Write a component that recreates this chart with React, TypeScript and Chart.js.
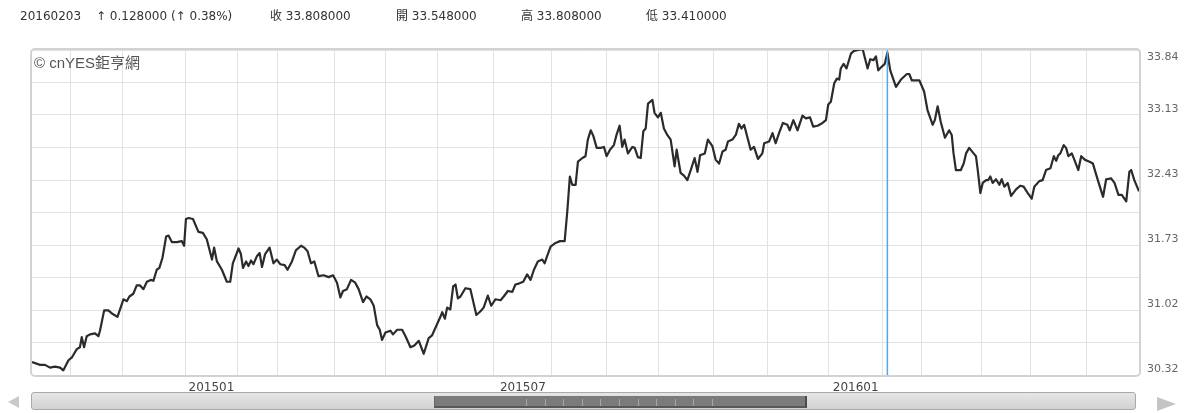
import { useEffect, useRef } from 'react';
import { Chart, registerables } from 'chart.js';

Chart.register(...registerables);

// ---- data (trading-day index from the first day shown, closing price) ----
const dayIndex = [
  0, 3.1, 5, 6.9, 8.8, 10.8, 12, 14, 15.3, 17.2,
  18.4, 19.1, 20, 21, 22.3, 24.2, 25.5, 26.1, 27.7, 29.3,
  31, 32.8, 33.8, 35.1, 36.4, 37.4, 38.9, 40.2, 41.5, 42.8,
  44.1, 45.6, 46.6, 47.9, 48.9, 50.1, 51.5, 52.4, 53.7, 55.6,
  57.5, 58.4, 59.1, 60.1, 61.8, 63.9, 65.6, 67.1, 69.1, 69.9,
  71, 72.9, 74.8, 76.1, 77.1, 79.3, 80.2, 81, 82.2, 83.1,
  84.1, 85, 86.4, 87.4, 88.3, 89.5, 91.2, 92.7, 94, 95.3,
  97, 98.1, 99.8, 101.3, 103.3, 104.5, 105.8, 107.1, 108.4, 110,
  112, 113.9, 115.6, 117.1, 118.4, 119.4, 120.9, 122.5, 124.1, 125.4,
  127.1, 128.4, 129.9, 131.2, 132.5, 133.5, 134.4, 135.7, 137.6, 138.6,
  140.2, 142.1, 143.4, 145.3, 146.8, 148.5, 150.4, 152.3, 153.6, 155.5,
  156.8, 157.5, 158.5, 159.4, 160.6, 161.7, 162.6, 163.5, 164.5, 166.4,
  168.3, 170.6, 172.2, 173.4, 175, 176.3, 177.9, 179.9, 181.1, 182.7,
  184.4, 185.6, 186.9, 188.6, 190.1, 191.4, 192.7, 194.2, 195.9, 196.8,
  197.8, 199.1, 201, 202.7, 204.5, 205.5, 206.5, 207.4, 208.7, 209.6,
  211.3, 212.5, 213.4, 214.5, 215.5, 216.8, 218.3, 219.6, 220.6, 221.9,
  223.4, 224.4, 225.6, 226.6, 227.5, 228.8, 230.5, 231.4, 232.6, 233.7,
  234.7, 235.6, 236.5, 238.2, 239, 240.3, 241.4, 242.6, 243.9, 245.2,
  246.7, 247.5, 249, 250.3, 251.6, 252.9, 254.4, 255.5, 256.5, 258.3,
  259.5, 261.2, 262.5, 263.8, 265.1, 266.3, 267.2, 268.9, 270.2, 271.4,
  272.4, 273.4, 274.7, 275.9, 277.2, 278.7, 280.4, 281.1, 283, 284.3,
  285.5, 286.8, 288.3, 290, 290.9, 292.3, 293.9, 295.8, 297.1, 298.7,
  299.9, 301.6, 303.5, 304.8, 305.7, 306.7, 308, 309, 309.9, 310.5,
  311.6, 312.7, 314.4, 315.6, 317.2, 318.9, 319.8, 320.8, 321.8, 323.1,
  324, 324.9, 325.9, 327.4, 328.4, 329.5, 331.7, 333.6, 335.9, 336.8,
  337.8, 340.7, 342.5, 343.8, 345.8, 346.6, 347.7, 348.9, 350.5, 352.1,
  353.1, 353.8, 354.7, 356.6, 357.7, 358.6, 359.8, 361.5, 362.4, 363.1,
  364.1, 365, 366.3, 367.1, 367.9, 368.8, 370.1, 371.4, 372.3, 373.3,
  374.6, 375.9, 377.8, 379.4, 380.7, 382.3, 383.8, 384.8, 386.7, 388,
  389.3, 391, 392.3, 393.2, 394, 394.8, 396.1, 397, 397.9, 399.2,
  400.2, 401.7, 402.8, 404.3, 406, 407.3, 409.2, 411.2, 412.4, 414.3,
  415.6, 417.1, 418.4, 420.1, 421.3, 422, 423.2, 425,
];

const closePrice = [
  30.46, 30.43, 30.43, 30.40, 30.41, 30.40, 30.37, 30.48, 30.51, 30.60,
  30.62, 30.73, 30.62, 30.74, 30.76, 30.77, 30.74, 30.80, 31.02, 31.02,
  30.98, 30.95, 31.03, 31.14, 31.12, 31.17, 31.20, 31.29, 31.29, 31.25,
  31.33, 31.35, 31.34, 31.46, 31.48, 31.59, 31.82, 31.83, 31.76, 31.76,
  31.77, 31.72, 32.01, 32.02, 32.01, 31.87, 31.86, 31.79, 31.57, 31.70,
  31.55, 31.46, 31.33, 31.33, 31.53, 31.69, 31.63, 31.48, 31.55, 31.50,
  31.56, 31.52, 31.61, 31.64, 31.49, 31.63, 31.70, 31.53, 31.57, 31.52,
  31.51, 31.46, 31.55, 31.67, 31.72, 31.70, 31.66, 31.53, 31.55, 31.39,
  31.40, 31.38, 31.40, 31.32, 31.16, 31.23, 31.25, 31.35, 31.32, 31.25,
  31.11, 31.17, 31.14, 31.07, 30.86, 30.81, 30.70, 30.78, 30.80, 30.76,
  30.81, 30.81, 30.74, 30.62, 30.64, 30.69, 30.55, 30.72, 30.75, 30.87,
  30.95, 31.00, 30.93, 31.05, 31.03, 31.28, 31.30, 31.15, 31.17, 31.26,
  31.25, 30.97, 31.01, 31.05, 31.18, 31.07, 31.14, 31.13, 31.17, 31.23,
  31.22, 31.30, 31.31, 31.33, 31.41, 31.35, 31.46, 31.55, 31.57, 31.53,
  31.61, 31.71, 31.75, 31.77, 31.77, 32.09, 32.47, 32.38, 32.38, 32.63,
  32.67, 32.69, 32.87, 32.97, 32.91, 32.78, 32.78, 32.79, 32.69, 32.76,
  32.81, 32.92, 33.02, 32.79, 32.87, 32.72, 32.79, 32.78, 32.68, 32.67,
  32.96, 32.99, 33.26, 33.30, 33.16, 33.11, 33.16, 32.99, 32.92, 32.87,
  32.58, 32.76, 32.51, 32.48, 32.43, 32.54, 32.67, 32.52, 32.70, 32.72,
  32.87, 32.80, 32.65, 32.61, 32.74, 32.76, 32.85, 32.87, 32.92, 33.04,
  32.99, 33.03, 32.89, 32.76, 32.79, 32.66, 32.72, 32.83, 32.85, 32.94,
  32.83, 32.94, 33.05, 33.03, 32.97, 33.08, 32.97, 33.13, 33.10, 33.11,
  33.01, 33.02, 33.05, 33.08, 33.25, 33.28, 33.48, 33.53, 33.52, 33.64,
  33.69, 33.64, 33.80, 33.83, 33.84, 33.85, 33.75, 33.64, 33.74, 33.73,
  33.77, 33.62, 33.65, 33.69, 33.81, 33.62, 33.44, 33.52, 33.58, 33.58,
  33.51, 33.51, 33.39, 33.19, 33.03, 33.08, 33.23, 33.06, 32.89, 32.97,
  32.92, 32.72, 32.54, 32.54, 32.61, 32.72, 32.78, 32.72, 32.69, 32.54,
  32.29, 32.40, 32.43, 32.43, 32.47, 32.40, 32.44, 32.38, 32.44, 32.36,
  32.40, 32.26, 32.33, 32.37, 32.36, 32.29, 32.23, 32.36, 32.42, 32.43,
  32.54, 32.56, 32.69, 32.64, 32.70, 32.72, 32.81, 32.78, 32.69, 32.72,
  32.65, 32.54, 32.69, 32.65, 32.63, 32.61, 32.43, 32.25, 32.44, 32.45,
  32.40, 32.27, 32.27, 32.20, 32.52, 32.54, 32.43, 32.31,
];

// first trading day of each month (trading-day index) and its yyyymm name
const monthStartDay = [14.6, 34.6, 58.8, 79.0, 94.1, 116.0, 135.6, 155.6, 177.3, 199.6, 220.6, 240.5, 261.7, 282.4, 305.9, 326.6, 341.6, 364.7, 383.5, 405.0, 425];
const monthStartName = ['201411', '201412', '201501', '201502', '201503', '201504', '201505', '201506', '201507', '201508', '201509', '201510', '201511', '201512', '201601', '201602', '201603', '201604', '201605', '201606', '201607'];
const xLabelMonths = ['201501', '201507', '201601'];
const dayMin = 0;
const dayMax = 425;

const yMin = 30.32;
const yMax = 33.84;
const yTickLabels = ['30.32', '31.02', '31.73', '32.43', '33.13', '33.84'];

const selectedDay = 328.4; // 20160203
const headerDate = '20160203';
const headerChange = '↑ 0.128000 (↑ 0.38%)';
const headerClose = '收 33.808000';
const headerOpen = '開 33.548000';
const headerHigh = '高 33.808000';
const headerLow = '低 33.410000';
const watermark = '© cnYES鉅亨網';

const labelDays = xLabelMonths.map((m) => {
  const i = monthStartName.indexOf(m);
  return (monthStartDay[i] + monthStartDay[i + 1]) / 2;
});

const zeroPad = (s: any) => {
  s.paddingTop = 0;
  s.paddingBottom = 0;
  s.paddingLeft = 0;
  s.paddingRight = 0;
};

const decorPlugin = {
  id: 'decor',
  beforeDraw(chart: any) {
    const s = chart.scales.y;
    const items = s.getLabelItems();
    const top = yTickLabels[yTickLabels.length - 1];
    for (const it of items) {
      if (it.label === top) it.options.translation[1] = s.getPixelForValue(yMax) + 7;
    }
  },
  afterDatasetsDraw(chart: any) {
    const { ctx, chartArea } = chart;
    const x = chart.scales.x.getPixelForValue(selectedDay);
    ctx.save();
    ctx.strokeStyle = '#52a8ec';
    ctx.lineWidth = 1.5;
    ctx.beginPath();
    ctx.moveTo(x, chartArea.top);
    ctx.lineTo(x, chartArea.bottom);
    ctx.stroke();
    ctx.restore();
  },
  afterDraw(chart: any) {
    const { ctx, chartArea } = chart;
    ctx.save();
    ctx.strokeStyle = '#d2d2d2';
    ctx.lineWidth = 2;
    ctx.beginPath();
    const a: any = ctx;
    if (a.roundRect) {
      a.roundRect(chartArea.left - 1, chartArea.top - 1, chartArea.right - chartArea.left + 2, chartArea.bottom - chartArea.top + 2, 4);
    } else {
      ctx.rect(chartArea.left - 1, chartArea.top - 1, chartArea.right - chartArea.left + 2, chartArea.bottom - chartArea.top + 2);
    }
    ctx.stroke();
    ctx.restore();
  },
};

export default function App() {
  const ref = useRef<HTMLCanvasElement | null>(null);

  useEffect(() => {
    if (!ref.current) return;
    const chart = new Chart(ref.current, {
      type: 'line',
      data: {
        datasets: [
          {
            data: dayIndex.map((d, i) => ({ x: d, y: closePrice[i] })),
            borderColor: '#2b2b2b',
            borderWidth: 2.2,
            pointRadius: 0,
            tension: 0,
            borderJoinStyle: 'round',
            fill: false,
          },
        ],
      },
      options: {
        animation: false,
        responsive: false,
        maintainAspectRatio: false,
        events: [],
        layout: { padding: { left: 32, top: 50, right: 0, bottom: 0 }, autoPadding: false },
        plugins: { legend: { display: false }, tooltip: { enabled: false } },
        scales: {
          x: {
            type: 'linear',
            position: 'bottom',
            min: dayMin,
            max: dayMax,
            afterBuildTicks: (s: any) => {
              s.ticks = monthStartDay.slice(0, -1).map((v) => ({ value: v }));
            },
            ticks: { display: false },
            grid: { color: '#e2e2e2', lineWidth: 1, drawTicks: false },
            border: { display: false },
            afterFit: (s: any) => {
              s.height = 0;
              zeroPad(s);
            },
          },
          xl: {
            type: 'linear',
            position: 'bottom',
            min: dayMin,
            max: dayMax,
            afterBuildTicks: (s: any) => {
              s.ticks = labelDays.map((v) => ({ value: v }));
            },
            ticks: {
              autoSkip: false,
              maxRotation: 0,
              minRotation: 0,
              padding: 6,
              color: '#444444',
              font: { family: 'DejaVu Sans', size: 12 },
              callback: (_v: any, i: number) => xLabelMonths[i],
            },
            grid: { display: false, drawTicks: false },
            border: { display: false },
            afterFit: (s: any) => {
              s.height = 38;
              zeroPad(s);
            },
          },
          y: {
            type: 'linear',
            position: 'right',
            min: yMin,
            max: yMax,
            afterBuildTicks: (s: any) => {
              s.ticks = Array.from({ length: 11 }, (_, i) => ({ value: yMin + (i * (yMax - yMin)) / 10 }));
            },
            ticks: {
              autoSkip: false,
              padding: 8,
              labelOffset: -6,
              color: '#666666',
              font: { family: 'DejaVu Sans', size: 11 },
              callback: (_v: any, i: number) => (i % 2 === 0 ? yTickLabels[i / 2] : ''),
            },
            grid: { color: '#e2e2e2', lineWidth: 1, drawTicks: false },
            border: { display: false },
            afterFit: (s: any) => {
              s.width = 51;
              zeroPad(s);
            },
          },
        },
      } as any,
      plugins: [decorPlugin],
    });
    return () => chart.destroy();
  }, []);

  const headerFont = "'DejaVu Sans', 'Noto Sans CJK TC', sans-serif";
  const hs = (left: number): any => ({
    position: 'absolute',
    left,
    top: 9,
    fontFamily: headerFont,
    fontSize: 12,
    lineHeight: '14px',
    color: '#333',
    whiteSpace: 'nowrap',
  });
  const grips = Array.from({ length: 11 }, (_, i) => 526 + i * 18.6);

  return (
    <div style={{ position: 'absolute', left: 0, top: 0, width: 1190, height: 413, background: '#fff', overflow: 'hidden' }}>
      <canvas ref={ref} width={1190} height={413} style={{ position: 'absolute', left: 0, top: 0, width: 1190, height: 413 }} />
      <span style={hs(20)}>{headerDate}</span>
      <span style={hs(96)}>{headerChange}</span>
      <span style={hs(270)}>{headerClose}</span>
      <span style={hs(396)}>{headerOpen}</span>
      <span style={hs(521)}>{headerHigh}</span>
      <span style={hs(646)}>{headerLow}</span>
      <span
        style={{
          position: 'absolute',
          left: 34,
          top: 54,
          fontFamily: "'Liberation Sans', 'Noto Sans CJK TC', sans-serif",
          fontSize: 15,
          lineHeight: '17px',
          color: '#555',
          whiteSpace: 'nowrap',
        }}
      >
        {watermark}
      </span>
      {/* navigator / scrollbar */}
      <div
        style={{
          position: 'absolute',
          left: 8,
          top: 396,
          width: 0,
          height: 0,
          borderTop: '6px solid transparent',
          borderBottom: '6px solid transparent',
          borderRight: '11px solid #c9c9c9',
        }}
      />
      <div
        style={{
          position: 'absolute',
          left: 31,
          top: 392,
          width: 1105,
          height: 18,
          boxSizing: 'border-box',
          background: 'linear-gradient(#e6e6e6, #d2d2d2)',
          border: '1px solid #a9a9a9',
          borderRadius: 3,
        }}
      />
      <div
        style={{
          position: 'absolute',
          left: 434,
          top: 396,
          width: 373,
          height: 12,
          boxSizing: 'border-box',
          background: '#7b7b7b',
          borderBottom: '2px solid #575757',
          borderRight: '2px solid #4a4a4a',
          borderLeft: '1px solid #666',
        }}
      />
      {grips.map((gx, i) => (
        <div key={i} style={{ position: 'absolute', left: gx, top: 399, width: 1, height: 7, background: '#a8a8a8' }} />
      ))}
      <div
        style={{
          position: 'absolute',
          left: 1157,
          top: 397,
          width: 0,
          height: 0,
          borderTop: '7px solid transparent',
          borderBottom: '7px solid transparent',
          borderLeft: '19px solid #c4c4c4',
        }}
      />
    </div>
  );
}
